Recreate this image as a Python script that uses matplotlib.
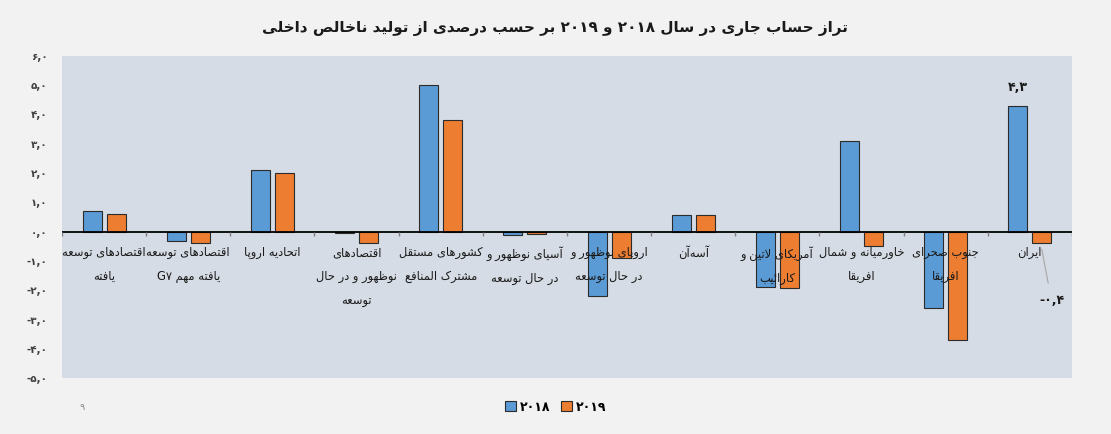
import re
import numpy as np
import matplotlib
matplotlib.use("Agg")
import matplotlib.pyplot as plt

# --- data -------------------------------------------------------------
categories = [
    "اقتصادهای توسعه\nیافته",
    "اقتصادهای توسعه\nیافته مهم G۷",
    "اتحادیه اروپا",
    "اقتصادهای\nنوظهور و در حال\nتوسعه",
    "کشورهای مستقل\nمشترک المنافع",
    "آسیای نوظهور و\nدر حال توسعه",
    "اروپای نوظهور و\nدر حال توسعه",
    "آسه‌آن",
    "آمریکای لاتین و\nکارائیب",
    "خاورمیانه و شمال\nافریقا",
    "جنوب صحرای\nافریقا",
    "ایران",
]
values_2018 = [0.7, -0.3, 2.1, -0.05, 5.0, -0.12, -2.2, 0.56, -1.9, 3.1, -2.6, 4.3]
values_2019 = [0.6, -0.4, 2.0, -0.4, 3.8, -0.07, -0.9, 0.56, -1.93, -0.5, -3.7, -0.4]
series_names = ["۲۰۱۸", "۲۰۱۹"]
title = "تراز حساب جاری در سال ۲۰۱۸ و ۲۰۱۹ بر حسب درصدی از تولید ناخالص داخلی"
y_ticks = [-5, -4, -3, -2, -1, 0, 1, 2, 3, 4, 5, 6]
page_number = "۹"

# --- simple persian shaping (matplotlib has no arabic text layout) ----
# letter: (isolated, final, initial, medial)
FORMS = {
    "ا": ("\ufe8d", "\ufe8e", None, None),
    "آ": ("\ufe81", "\ufe82", None, None),
    "ب": ("\ufe8f", "\ufe90", "\ufe91", "\ufe92"),
    "پ": ("\ufb56", "\ufb57", "\ufb58", "\ufb59"),
    "ت": ("\ufe95", "\ufe96", "\ufe97", "\ufe98"),
    "ث": ("\ufe99", "\ufe9a", "\ufe9b", "\ufe9c"),
    "ج": ("\ufe9d", "\ufe9e", "\ufe9f", "\ufea0"),
    "ح": ("\ufea1", "\ufea2", "\ufea3", "\ufea4"),
    "خ": ("\ufea5", "\ufea6", "\ufea7", "\ufea8"),
    "د": ("\ufea9", "\ufeaa", None, None),
    "ذ": ("\ufeab", "\ufeac", None, None),
    "ر": ("\ufead", "\ufeae", None, None),
    "ز": ("\ufeaf", "\ufeb0", None, None),
    "ژ": ("\ufb8a", "\ufb8b", None, None),
    "س": ("\ufeb1", "\ufeb2", "\ufeb3", "\ufeb4"),
    "ش": ("\ufeb5", "\ufeb6", "\ufeb7", "\ufeb8"),
    "ص": ("\ufeb9", "\ufeba", "\ufebb", "\ufebc"),
    "ض": ("\ufebd", "\ufebe", "\ufebf", "\ufec0"),
    "ط": ("\ufec1", "\ufec2", "\ufec3", "\ufec4"),
    "ظ": ("\ufec5", "\ufec6", "\ufec7", "\ufec8"),
    "ع": ("\ufec9", "\ufeca", "\ufecb", "\ufecc"),
    "غ": ("\ufecd", "\ufece", "\ufecf", "\ufed0"),
    "ف": ("\ufed1", "\ufed2", "\ufed3", "\ufed4"),
    "ق": ("\ufed5", "\ufed6", "\ufed7", "\ufed8"),
    "ک": ("\ufb8e", "\ufb8f", "\ufb90", "\ufb91"),
    "گ": ("\ufb92", "\ufb93", "\ufb94", "\ufb95"),
    "ل": ("\ufedd", "\ufede", "\ufedf", "\ufee0"),
    "م": ("\ufee1", "\ufee2", "\ufee3", "\ufee4"),
    "ن": ("\ufee5", "\ufee6", "\ufee7", "\ufee8"),
    "ه": ("\ufee9", "\ufeea", "\ufeeb", "\ufeec"),
    "و": ("\ufeed", "\ufeee", None, None),
    "ی": ("\ufbfc", "\ufbfd", "\ufbfe", "\ufbff"),
    "ئ": ("\ufe89", "\ufe8a", "\ufe8b", "\ufe8c"),
}
LAM_ALEF = {"ا": ("\ufefb", "\ufefc"), "آ": ("\ufef5", "\ufef6")}


def joins_next(ch):
    return ch in FORMS and FORMS[ch][2] is not None


def shape_line(s):
    out = []
    i = 0
    n = len(s)
    while i < n:
        ch = s[i]
        if ch == "\u200c":
            i += 1
            continue
        if ch not in FORMS:
            out.append(ch)
            i += 1
            continue
        prev = s[i - 1] if i > 0 else ""
        j_prev = joins_next(prev)
        if ch == "ل" and i + 1 < n and s[i + 1] in LAM_ALEF:
            out.append(LAM_ALEF[s[i + 1]][1 if j_prev else 0])
            i += 2
            continue
        nxt = s[i + 1] if i + 1 < n else ""
        j_next = joins_next(ch) and nxt in FORMS
        iso, fin, ini, med = FORMS[ch]
        if j_prev and j_next:
            out.append(med)
        elif j_prev:
            out.append(fin)
        elif j_next:
            out.append(ini)
        else:
            out.append(iso)
        i += 1
    vis = "".join(out)[::-1]
    # keep latin / digit runs left to right
    vis = re.sub(r"[A-Za-z0-9\u06f0-\u06f9,]+", lambda m: m.group(0)[::-1], vis)
    return vis


def fa(text):
    return "\n".join(shape_line(line) for line in text.split("\n"))


def fa_num(v):
    s = "%.1f" % v
    if s == "-0.0":
        s = "0.0"
    s = s.replace(".", ",")
    return s.translate(str.maketrans("0123456789", "۰۱۲۳۴۵۶۷۸۹"))


# --- plot -------------------------------------------------------------
plt.rcParams["font.family"] = ["DejaVu Sans"]

fig = plt.figure(figsize=(11.11, 4.34), dpi=100)
fig.patch.set_facecolor("#f2f2f2")
ax = fig.add_axes([0.0558, 0.1281, 0.909, 0.7436])
ax.set_facecolor("#d6dce5")

x = np.arange(len(categories))
w = 0.226
off = 0.1425
blue = "#5b9bd5"
orange = "#ed7d31"
b1 = ax.bar(x - off, values_2018, w, color=blue, edgecolor="#2b2b2b", linewidth=0.8,
            label=fa(series_names[0]), zorder=2)
b2 = ax.bar(x + off, values_2019, w, color=orange, edgecolor="#2b2b2b", linewidth=0.8,
            label=fa(series_names[1]), zorder=2)

ax.set_xlim(-0.5, len(categories) - 0.5)
ax.set_ylim(-5, 6)
for s in ax.spines.values():
    s.set_visible(False)

ax.axhline(0, color="black", linewidth=1.3, zorder=3)
# category boundary ticks hanging under the zero line
for b in np.arange(len(categories) + 1) - 0.5:
    ax.plot([b, b], [0, -0.16], color="#808080", linewidth=1.0, zorder=3,
            solid_capstyle="butt")

ax.set_xticks([])
ax.set_yticks(y_ticks)
ax.set_yticklabels([fa_num(v) for v in y_ticks], fontsize=7.5, color="#404040",
                   fontweight="bold")
ax.tick_params(axis="y", length=0, pad=10.5)

for i, lab in enumerate(categories):
    ax.text(x[i], -0.5, fa(lab), ha="center", va="top", fontsize=8.3,
            color="#1a1a1a", linespacing=2.1, zorder=5)

# data labels for Iran
iran = len(categories) - 1
ax.annotate(fa_num(values_2018[iran]), (x[iran] - off, values_2018[iran]),
            xytext=(0, 8), textcoords="offset points", ha="center", va="bottom",
            fontsize=9, fontweight="bold", color="#1a1a1a")
ax.annotate(fa_num(values_2019[iran]), (x[iran] + off, values_2019[iran] - 0.2),
            xytext=(7, -37), textcoords="offset points", ha="center", va="center",
            fontsize=9, fontweight="bold", color="#1a1a1a",
            arrowprops=dict(arrowstyle="-", color="#a6a6a6", linewidth=0.8,
                            shrinkA=6, shrinkB=0))

fig.text(0.5, 0.935, fa(title), ha="center", va="center", fontsize=11,
         fontweight="bold", color="#1a1a1a")

leg = fig.legend(handles=[b1, b2], loc="center", bbox_to_anchor=(0.5, 0.062),
                 ncol=2, frameon=False, handlelength=0.9,
                 handleheight=0.9, handletextpad=0.3, columnspacing=0.8,
                 prop={"weight": "bold", "size": 9})
fig.text(0.074, 0.062, page_number, ha="center", va="center", fontsize=7,
         color="#8c8c8c")

fig.savefig("out.png", dpi=100, facecolor=fig.get_facecolor())
